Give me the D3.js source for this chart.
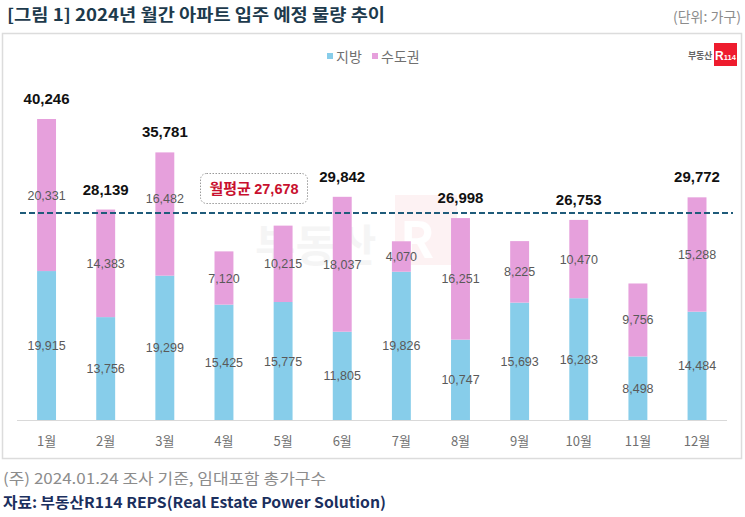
<!DOCTYPE html>
<html><head><meta charset="utf-8">
<script src="https://cdn.jsdelivr.net/npm/d3@7"></script>
<style>
body{margin:0;background:#fff;}
svg{display:block;font-family:"Noto Sans CJK KR","Noto Sans",sans-serif;}
</style></head>
<body><svg id="c" width="745" height="517"></svg>
<script>
const months = ["1월","2월","3월","4월","5월","6월","7월","8월","9월","10월","11월","12월"];
const regional = [19915,13756,19299,15425,15775,11805,19826,10747,15693,16283,8498,14484];
const capital  = [20331,14383,16482,7120,10215,18037,4070,16251,8225,10470,9756,15288];
const totalShown = [40246,28139,35781,null,null,29842,null,26998,null,26753,null,29772];
const average = 27678;
const seriesNames = ["지방","수도권"];
const colors = ["#87cdea","#e6a0dc"];

const svg = d3.select("#c");
const num = "Liberation Sans, Arial, sans-serif";

// title
svg.append("text").attr("x",7).attr("y",21).attr("font-size",16.5).attr("font-weight",700)
  .attr("fill","#1d3a4c").attr("textLength",378).attr("lengthAdjust","spacingAndGlyphs")
  .text("[그림 1] 2024년 월간 아파트 입주 예정 물량 추이");
svg.append("text").attr("x",741).attr("y",22).attr("text-anchor","end").attr("font-size",14)
  .attr("fill","#8c8c8c").text("(단위: 가구)");

// frame
svg.append("rect").attr("x",2.5).attr("y",33.5).attr("width",739).attr("height",425)
  .attr("fill","#fff").attr("stroke","#dcdcdc").attr("stroke-width",1.5);

const y = d3.scaleLinear().domain([0,40246]).range([420,119]);
const x = d3.scaleBand().domain(months).range([17,726.6]).paddingInner(0.68).paddingOuter(0.34);

// watermark
const wm = svg.append("g").attr("opacity",0.05);
wm.append("rect").attr("x",395).attr("y",195).attr("width",62).attr("height",70).attr("fill","#e8192c");
wm.append("text").attr("x",255).attr("y",262).attr("font-size",44).attr("font-weight",700).attr("fill","#555").text("부동산");
wm.append("text").attr("x",400).attr("y",258).attr("font-size",50).attr("font-weight",700).attr("fill","#fff").text("R");

// legend
const lg = svg.append("g");
[[327,0],[372,1]].forEach(([lx,i])=>{
  lg.append("rect").attr("x",lx).attr("y",53).attr("width",6).attr("height",6).attr("fill",colors[i]);
  lg.append("text").attr("x",lx+9).attr("y",61.5).attr("font-size",14).attr("fill","#707070").text(seriesNames[i]);
});

// logo
svg.append("text").attr("x",712).attr("y",59).attr("text-anchor","end").attr("font-size",9).attr("font-weight",700)
  .attr("fill","#666").attr("letter-spacing",-0.3).text("부동산");
svg.append("rect").attr("x",714).attr("y",43).attr("width",23).attr("height",23).attr("fill","#ee1c2e");
const lt = svg.append("text").attr("x",725.5).attr("y",60).attr("text-anchor","middle").attr("font-weight",700)
  .attr("fill","#fff").attr("font-family",num);
lt.append("tspan").attr("font-size",12).text("R");
lt.append("tspan").attr("font-size",7.5).text("114");

// stacked bars
const rows = months.map((m,i)=>({month:m, r:regional[i], c:capital[i]}));
const stack = d3.stack().keys(["r","c"])(rows);
const g = svg.append("g");
stack.forEach((layer,li)=>{
  g.selectAll(null).data(layer).enter().append("rect")
    .attr("x",d=>x(d.data.month)).attr("width",x.bandwidth())
    .attr("y",d=>y(d[1])).attr("height",d=>y(d[0])-y(d[1]))
    .attr("fill",colors[li]);
});
// axis baseline
svg.append("line").attr("x1",17).attr("x2",727).attr("y1",420.5).attr("y2",420.5)
  .attr("stroke","#d9d9d9").attr("stroke-width",1);

// average line
const yAvg = y(average);
svg.append("line").attr("x1",20).attr("x2",733).attr("y1",yAvg).attr("y2",yAvg)
  .attr("stroke","#1f5b7a").attr("stroke-width",2).attr("stroke-dasharray","6,3");

// inner labels (shifted up if they would sit on the average line)
stack.forEach((layer)=>{
  g.selectAll(null).data(layer).enter().append("text")
    .attr("x",d=>x(d.data.month)+x.bandwidth()/2)
    .attr("y",d=>{
      let cy=(y(d[0])+y(d[1]))/2;
      if(Math.abs(cy-yAvg)<10) cy=yAvg-14;
      return cy+4.5;
    })
    .attr("text-anchor","middle").attr("font-size",12.5).attr("fill","#595959")
    .attr("font-family",num)
    .text(d=>d3.format(",")(d[1]-d[0]));
});

// totals
rows.forEach((d,i)=>{
  if(totalShown[i]==null) return;
  svg.append("text").attr("x",x(d.month)+x.bandwidth()/2).attr("y",y(d.r+d.c)-15)
    .attr("text-anchor","middle").attr("font-size",15).attr("font-weight",700).attr("fill","#111")
    .attr("font-family",num)
    .text(d3.format(",")(totalShown[i]));
});

// average label box
svg.append("rect").attr("x",200.5).attr("y",173.5).attr("width",107).attr("height",30).attr("rx",6)
  .attr("fill","#fff").attr("stroke","#999").attr("stroke-dasharray","1.5,1.5");
const at = svg.append("text").attr("x",254).attr("y",194).attr("text-anchor","middle")
  .attr("font-weight",700).attr("fill","#c8102e");
at.append("tspan").attr("font-size",15).text("월평균 ");
at.append("tspan").attr("font-size",14.5).attr("font-family",num).text(d3.format(",")(average));

// x axis labels
svg.append("g").selectAll("text").data(months).enter().append("text")
  .attr("x",d=>x(d)+x.bandwidth()/2).attr("y",446).attr("text-anchor","middle")
  .attr("font-size",13).attr("fill","#707070").text(d=>d);

// footnotes
svg.append("text").attr("x",3).attr("y",484).attr("font-size",15).attr("fill","#8c8c8c")
  .attr("textLength",323).attr("lengthAdjust","spacingAndGlyphs")
  .text("(주) 2024.01.24 조사 기준, 임대포함 총가구수");
svg.append("text").attr("x",3).attr("y",508).attr("font-size",15).attr("font-weight",700).attr("fill","#1b2f5e")
  .attr("textLength",383).attr("lengthAdjust","spacingAndGlyphs")
  .text("자료: 부동산R114 REPS(Real Estate Power Solution)");
</script></body></html>
